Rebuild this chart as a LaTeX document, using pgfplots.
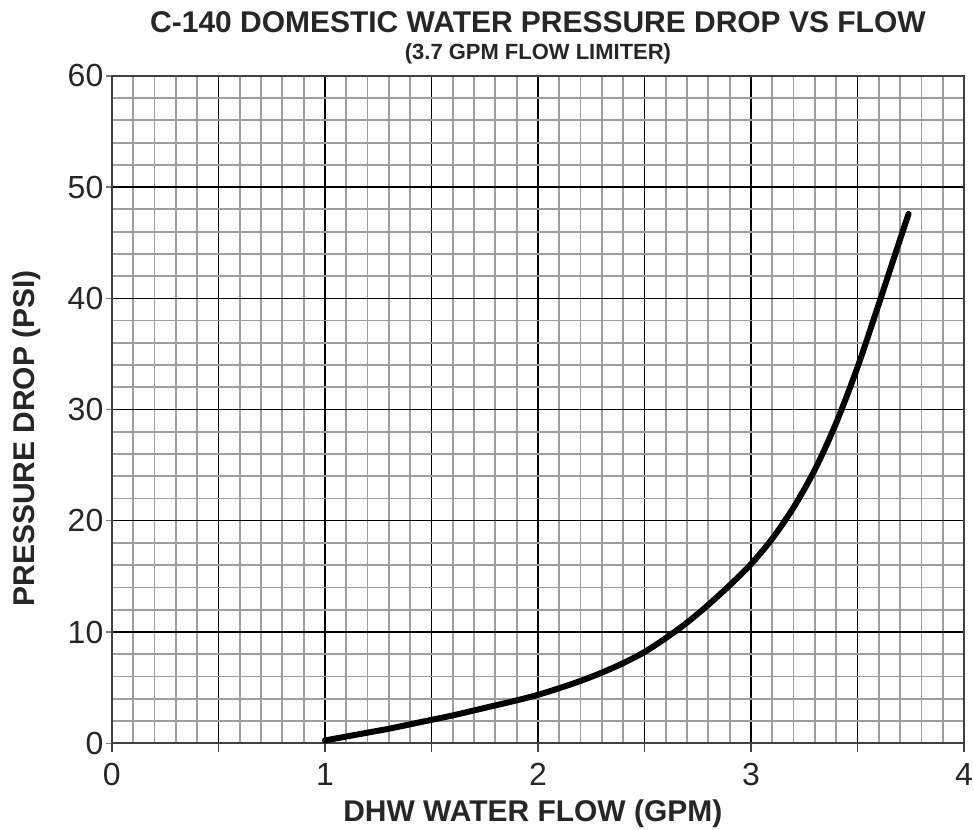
\documentclass[border=0pt]{standalone}
\usepackage{fontspec}
\setmainfont{Liberation Sans}
\usepackage{pgfplots}
\pgfplotsset{compat=1.18}
\begin{document}
\begin{tikzpicture}
\begin{axis}[
  scale only axis,
  width=426.5pt, height=334pt,
  xmin=0, xmax=4, ymin=0, ymax=60,
  xtick={0,0.5,...,4},
  xticklabels={0,,1,,2,,3,,4},
  ytick={0,10,...,60},
  minor x tick num=4,
  minor y tick num=4,
  grid=both,
  major grid style={draw=black, line width=0.7pt},
  minor grid style={draw=black!38, line width=0.9pt},
  axis line style={draw=black!75, line width=1pt},
  tick align=outside,
  tick pos=left,
  minor tick length=0pt,
  xtick style={draw=black!75, line width=0.9pt, /pgfplots/major tick length=4.5pt},
  ytick style={draw=black!50, line width=0.7pt, /pgfplots/major tick length=3pt},
  /pgf/number format/assume math mode=true,
  ticklabel style={font=\fontsize{16}{18}\selectfont, text=black!85},
  xticklabel style={anchor=base, yshift=-17pt},
  yticklabel style={anchor=east, xshift=3.5pt},
  clip=false,
]
\addplot[black, line width=3pt, smooth, line cap=round] coordinates {
 (1.0,0.25) (1.1,0.6) (1.2,0.95) (1.3,1.3) (1.4,1.7) (1.5,2.1) (1.6,2.5) (1.7,2.95)
 (1.8,3.4) (1.9,3.85) (2.0,4.35) (2.1,4.95) (2.2,5.6) (2.3,6.35) (2.4,7.2) (2.5,8.2)
 (2.6,9.45) (2.7,10.85) (2.8,12.45) (2.9,14.2) (3.0,16.1) (3.1,18.4) (3.2,21.2)
 (3.3,24.6) (3.4,28.8) (3.5,33.8) (3.6,39.5) (3.7,45.3) (3.74,47.6)
};
\node[anchor=base, font=\fontsize{15}{18}\selectfont\bfseries, text=black!85] at (rel axis cs:0.5,1) [yshift=21.5pt] {C-140 DOMESTIC WATER PRESSURE DROP VS FLOW};
\node[anchor=base, font=\fontsize{11}{13}\selectfont\bfseries, text=black!85] at (rel axis cs:0.5,1) [yshift=8pt] {(3.7 GPM FLOW LIMITER)};
\node[anchor=base, font=\fontsize{15}{18}\selectfont\bfseries, text=black!85] at (rel axis cs:0.494,0) [yshift=-39pt] {DHW WATER FLOW (GPM)};
\node[font=\fontsize{15}{18}\selectfont\bfseries, text=black!85, xshift=-38.5pt, rotate=90, anchor=base] at (rel axis cs:0,0.457) {PRESSURE DROP (PSI)};
\coordinate (bl) at (rel axis cs:0,0);
\coordinate (tr) at (rel axis cs:1,1);
\end{axis}
\pgfresetboundingbox
\path[use as bounding box] ([xshift=-56pt,yshift=-43pt]bl) rectangle ([xshift=4.5pt,yshift=38pt]tr);
\end{tikzpicture}
\end{document}
